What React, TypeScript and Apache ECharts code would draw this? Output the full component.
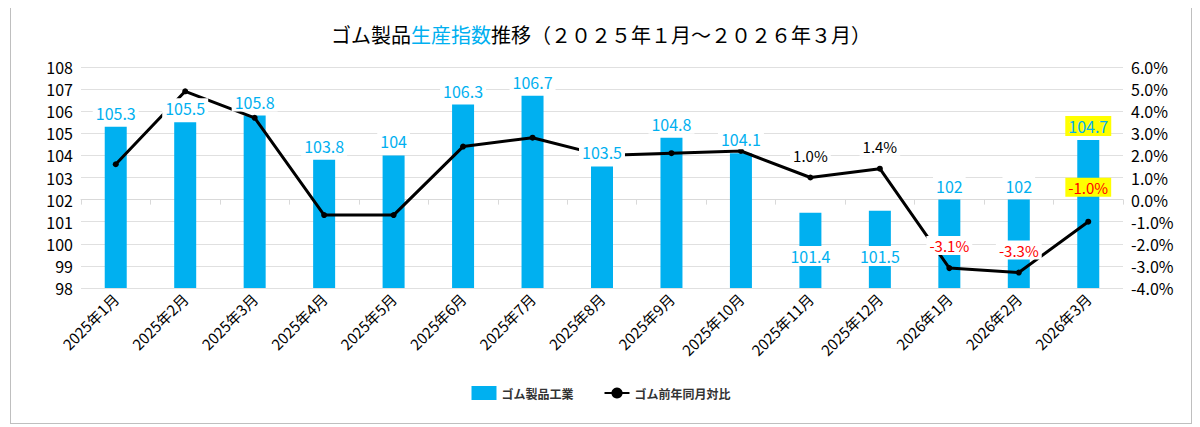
import { useEffect, useRef } from "react";
import * as echarts from "echarts";

const categories = ["2025年1月", "2025年2月", "2025年3月", "2025年4月", "2025年5月", "2025年6月", "2025年7月", "2025年8月", "2025年9月", "2025年10月", "2025年11月", "2025年12月", "2026年1月", "2026年2月", "2026年3月"];
const indexValues = [105.3, 105.5, 105.8, 103.8, 104, 106.3, 106.7, 103.5, 104.8, 104.1, 101.4, 101.5, 102, 102, 104.7];
const yoyValues = [1.6, 4.9, 3.7, -0.7, -0.7, 2.4, 2.8, 2.0, 2.1, 2.2, 1.0, 1.4, -3.1, -3.3, -1.0];
// which points of the line carry a label
const yoyLabelShown = [false, false, false, false, false, false, false, false, false, false, true, true, true, true, true];

const BLUE = "#00B0F0";

export default function App() {
  const ref = useRef<HTMLDivElement>(null);

  useEffect(() => {
    if (!ref.current) return;
    const chart = echarts.init(ref.current, null, { renderer: "svg" });
    const font = "'Noto Sans CJK JP', sans-serif";
    chart.setOption({
      animation: false,
      textStyle: { fontFamily: font },
      title: {
        text: "{k|ゴム製品}{b|生産指数}{k|推移（２０２５年１月～２０２６年３月）}",
        left: "center",
        top: 14,
        textStyle: {
          rich: {
            k: { fontSize: 20, color: "#000", fontFamily: font, fontWeight: "normal" },
            b: { fontSize: 20, color: BLUE, fontFamily: font, fontWeight: "normal" },
          },
        },
      },
      legend: {
        bottom: 18,
        itemGap: 30,
        textStyle: { fontSize: 12, fontWeight: "bold", color: "#333" },
        data: [
          { name: "ゴム製品工業", icon: "rect" },
          { name: "ゴム前年同月対比" },
        ],
      },
      grid: { left: 70, right: 68, top: 62, bottom: 135 },
      xAxis: {
        type: "category",
        data: categories,
        axisLine: { lineStyle: { color: "#d9d9d9" } },
        axisTick: { show: true, lineStyle: { color: "#d9d9d9" } },
        axisLabel: { rotate: 45, fontSize: 15, color: "#000", interval: 0 },
      },
      yAxis: [
        {
          type: "value",
          min: 98,
          max: 108,
          interval: 1,
          axisLabel: { fontSize: 16, color: "#000" },
          splitLine: { lineStyle: { color: "#e0e0e0" } },
        },
        {
          type: "value",
          min: -4,
          max: 6,
          interval: 1,
          axisLabel: { fontSize: 16, color: "#000", formatter: (v: number) => v.toFixed(1) + "%" },
          splitLine: { show: false },
        },
      ],
      series: [
        {
          name: "ゴム製品工業",
          type: "bar",
          barWidth: 22,
          z: 2,
          itemStyle: { color: BLUE },
          data: indexValues,
        },
        {
          name: "ゴム前年同月対比",
          type: "line",
          yAxisIndex: 1,
          z: 3,
          symbol: "circle",
          symbolSize: 6,
          lineStyle: { color: "#000", width: 3 },
          itemStyle: { color: "#000" },
          data: yoyValues.map((v, i) => {
            const red = v < 0;
            const highlight = i === yoyValues.length - 1;
            return {
              value: v,
              label: {
                show: yoyLabelShown[i],
                position: "top",
                distance: highlight ? 22 : 10,
                formatter: (p: any) => p.value.toFixed(1) + "%",
                color: red ? "#FF0000" : "#000",
                fontSize: 15,
                backgroundColor: highlight ? "#FFFF00" : "#fff",
                padding: [2, 3],
              },
            };
          }),
        },
        {
          // transparent copy of the bars that only carries their labels above the line
          name: "labels",
          type: "bar",
          barWidth: 22,
          barGap: "-100%",
          z: 5,
          silent: true,
          legendHoverLink: false,
          itemStyle: { color: "transparent" },
          data: indexValues.map((v, i) => {
            const highlight = i === indexValues.length - 1;
            const inside = i === 10 || i === 11;
            return {
              value: v,
              label: {
                show: true,
                position: inside ? "insideBottom" : "top",
                distance: inside ? 22 : 4,
                color: BLUE,
                fontSize: 16,
                backgroundColor: highlight ? "#FFFF00" : "#fff",
                padding: [2, 3],
              },
            };
          }),
        },
      ],
    });
    return () => chart.dispose();
  }, []);

  return (
    <div style={{ width: 1180, height: 418, border: "1px solid #bfbfbf", background: "#fff", margin: "-4px 0 0 2px" }}>
      <div ref={ref} style={{ width: 1180, height: 418 }} />
    </div>
  );
}
